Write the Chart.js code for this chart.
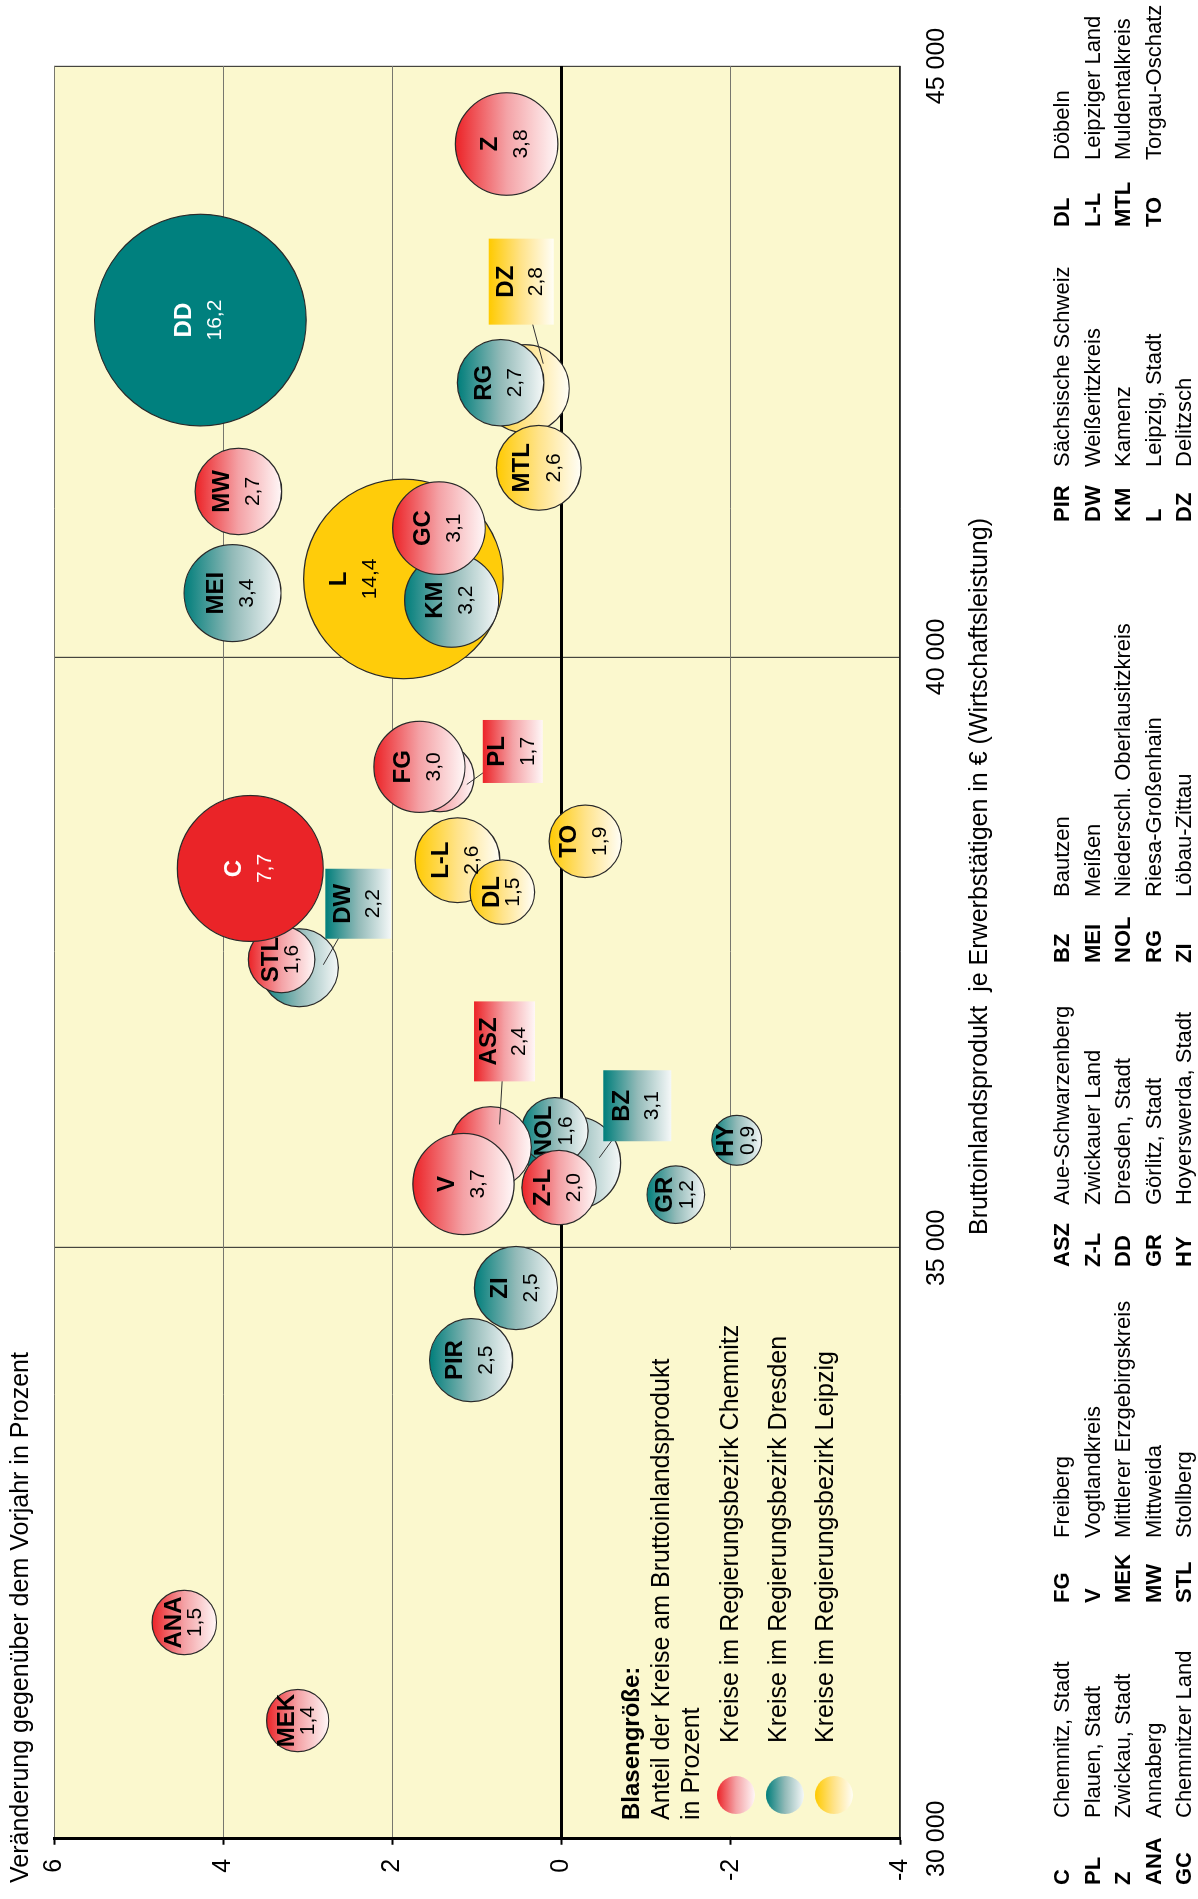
<!DOCTYPE html>
<html lang="de">
<head>
<meta charset="utf-8">
<title>Bruttoinlandsprodukt je Erwerbstätigen – Kreise in Sachsen</title>
<script src="https://cdn.jsdelivr.net/npm/chart.js@4.4.1/dist/chart.umd.min.js"></script>
<style>
  html, body { margin: 0; padding: 0; background: #fff; overflow: hidden; }
  /* Chart wird quer gezeichnet und dann um 90° gedreht */
  #wrap { position: absolute; left: 0; top: 0; width: 1899px; height: 1198px;
          transform-origin: 0 0; transform: translate(0, 1899px) rotate(-90deg); }
</style>
</head>
<body>
<div id="wrap"><canvas id="chart" width="1899" height="1198"></canvas></div>
<script>
// ------------------------------------------------------------------
// Daten (Reihenfolge wie in der Namensliste)
// ------------------------------------------------------------------
const codes = ['C', 'PL', 'Z', 'ANA', 'GC', 'FG', 'V', 'MEK', 'MW', 'STL', 'ASZ', 'Z-L',
               'DD', 'GR', 'HY', 'BZ', 'MEI', 'NOL', 'RG', 'ZI', 'PIR', 'DW', 'KM',
               'L', 'DZ', 'DL', 'L-L', 'MTL', 'TO'];

const names = ['Chemnitz, Stadt', 'Plauen, Stadt', 'Zwickau, Stadt', 'Annaberg', 'Chemnitzer Land',
               'Freiberg', 'Vogtlandkreis', 'Mittlerer Erzgebirgskreis', 'Mittweida', 'Stollberg',
               'Aue-Schwarzenberg', 'Zwickauer Land', 'Dresden, Stadt', 'Görlitz, Stadt', 'Hoyerswerda, Stadt',
               'Bautzen', 'Meißen', 'Niederschl. Oberlausitzkreis', 'Riesa-Großenhain', 'Löbau-Zittau',
               'Sächsische Schweiz', 'Weißeritzkreis', 'Kamenz', 'Leipzig, Stadt', 'Delitzsch',
               'Döbeln', 'Leipziger Land', 'Muldentalkreis', 'Torgau-Oschatz'];

// 0 = Chemnitz, 1 = Dresden, 2 = Leipzig
const bezirk = [0, 0, 0, 0, 0, 0, 0, 0, 0, 0, 0, 0,
                1, 1, 1, 1, 1, 1, 1, 1, 1, 1, 1,
                2, 2, 2, 2, 2, 2];

// BIP je Erwerbstätigen in €
const bip = [38210, 38980, 44340, 31830, 41090, 39070, 35540, 31000, 41400, 37440, 35850, 35510,
             42850, 35450, 35910, 35720, 40540, 35990, 42320, 34660, 34050, 37370, 40480,
             40660, 42270, 38010, 38280, 41600, 38440];

// Veränderung gegenüber dem Vorjahr in %
const veraenderung = [3.68, 1.44, 0.65, 4.46, 1.45, 1.68, 1.16, 3.12, 3.82, 3.31, 0.84, 0.03,
                      4.27, -1.35, -2.07, -0.15, 3.89, 0.08, 0.72, 0.54, 1.07, 3.10, 1.30,
                      1.87, 0.43, 0.70, 1.23, 0.27, -0.28];

// Anteil am Bruttoinlandsprodukt in % (Blasengröße)
const anteil = [7.7, 1.7, 3.8, 1.5, 3.1, 3.0, 3.7, 1.4, 2.7, 1.6, 2.4, 2.0,
                16.2, 1.2, 0.9, 3.1, 3.4, 1.6, 2.7, 2.5, 2.5, 2.2, 3.2,
                14.4, 2.8, 1.5, 2.6, 2.6, 1.9];

const bezirke = ['Chemnitz', 'Dresden', 'Leipzig'];
const xTicks = [30000, 35000, 40000, 45000];
const yTicks = [-4, -2, 0, 2, 4, 6];

// ------------------------------------------------------------------
// Darstellung
// ------------------------------------------------------------------
const FONT = '"Liberation Sans", Arial, sans-serif';
const BG = '#FBF8CE';
const R_SCALE = 26.3;  // px je Wurzel(Prozent)

const FARBEN = [
  { full: '#EC2327', mid: '#F4A2A6', light: '#FFF7F7', solid: '#EA2428' },
  { full: '#007E7B', mid: '#92BAB8', light: '#F5F8F8', solid: '#00807E' },
  { full: '#FFCA00', mid: '#FFE38A', light: '#FFFEF6', solid: '#FFCC0A' },
];
const SOLID = ['C', 'DD', 'L'];
const WHITE_TEXT = ['C', 'DD'];
const BACK = ['PL', 'ASZ', 'STL', 'BZ', 'DW', 'L', 'DZ', 'L-L'];  // zuerst zeichnen
const LABEL_SHIFT = { L: -48 };

// verdeckte Kreise: Beschriftung im Kasten, [u, v] relativ zum Blasenmittelpunkt
const CALLOUTS = {
  DW:  { box: [64, 59],  size: [70, 66], end: [3, 24] },
  PL:  { box: [26, 73],  size: [63, 60], end: [-7, 27] },
  ASZ: { box: [106, 14], size: [80, 61], end: [23, 9] },
  BZ:  { box: [57, 63],  size: [71, 68], end: [5, 25] },
  DZ:  { box: [107, -4], size: [86, 65], end: [25, 18] },
};

const font = (size, bold) => (bold ? 'bold ' : '') + size + 'px ' + FONT;
const fmtPct = v => v.toFixed(1).replace('.', ',');
const radiusOf = share => R_SCALE * Math.sqrt(share);

function makeGradient(c, top, bottom, f) {
  const g = c.createLinearGradient(0, top, 0, bottom);
  g.addColorStop(0, f.full);
  g.addColorStop(0.5, f.mid);
  g.addColorStop(1, f.light);
  return g;
}

function buildDatasets() {
  return bezirke.map((name, b) => {
    const idx = codes.map((_, i) => i).filter(i => bezirk[i] === b);
    const back = idx.filter(i => BACK.includes(codes[i]));
    const front = idx.filter(i => !BACK.includes(codes[i]));
    return {
      label: 'Kreise im Regierungsbezirk ' + name,
      bezirk: b,
      data: back.concat(front).map(i => ({
        x: bip[i], y: veraenderung[i], share: anteil[i], code: codes[i],
      })),
      radius: ctx => (ctx.raw ? radiusOf(ctx.raw.share) : 3),
      backgroundColor: ctx => {
        const f = FARBEN[b];
        if (!ctx.raw || SOLID.includes(ctx.raw.code)) return f.solid;
        const yp = ctx.chart.scales.y ? ctx.chart.scales.y.getPixelForValue(ctx.raw.y) : NaN;
        if (!isFinite(yp)) return f.mid;
        const r = radiusOf(ctx.raw.share);
        return makeGradient(ctx.chart.ctx, yp - r, yp + r, f);
      },
      borderColor: '#2a2a2a',
      borderWidth: 1.2,
    };
  });
}

// ------------------------------------------------------------------
// Zusatzzeichnungen: Hintergrund, Beschriftungen, Legende, Namensliste
// ------------------------------------------------------------------
const extras = {
  id: 'extras',

  beforeDraw(chart) {
    const { ctx: c, chartArea: a } = chart;
    c.save();
    c.fillStyle = BG;
    c.fillRect(a.left, a.top, a.right - a.left, a.bottom - a.top);
    c.restore();
  },

  afterDatasetDraw(chart, args) {
    const c = chart.ctx;
    const ds = chart.data.datasets[args.index];
    c.save();
    c.textAlign = 'center';
    c.textBaseline = 'middle';
    args.meta.data.forEach((el, i) => {
      const p = ds.data[i];
      if (CALLOUTS[p.code]) return;
      const r = el.options.radius;
      const small = r < 34;
      const shift = LABEL_SHIFT[p.code] || 0;
      c.fillStyle = WHITE_TEXT.includes(p.code) ? '#fff' : '#000';
      c.font = font(24, true);
      c.fillText(p.code, el.x, el.y + shift + (small ? -11 : -17) + 1);
      c.font = font(21, false);
      c.fillText(fmtPct(p.share), el.x, el.y + shift + (small ? 10 : 14) + 1);
    });
    c.restore();
  },

  afterDatasetsDraw(chart) {
    const c = chart.ctx;
    const a = chart.chartArea;
    c.save();

    // Kästen für verdeckte Kreise
    chart.data.datasets.forEach((ds, d) => {
      const meta = chart.getDatasetMeta(d);
      meta.data.forEach((el, i) => {
        const p = ds.data[i];
        const co = CALLOUTS[p.code];
        if (!co) return;
        const bx = el.x + co.box[0], by = el.y + co.box[1];
        const w = co.size[0], h = co.size[1];
        c.strokeStyle = '#333';
        c.lineWidth = 1;
        c.beginPath();
        c.moveTo(bx, by);
        c.lineTo(el.x + co.end[0], el.y + co.end[1]);
        c.stroke();
        c.fillStyle = makeGradient(c, by - h / 2, by + h / 2, FARBEN[ds.bezirk]);
        c.fillRect(bx - w / 2, by - h / 2, w, h);
        c.fillStyle = '#000';
        c.textAlign = 'center';
        c.textBaseline = 'middle';
        c.font = font(24, true);
        c.fillText(p.code, bx, by - 16 + 1);
        c.font = font(21, false);
        c.fillText(fmtPct(p.share), bx, by + 14 + 1);
      });
    });

    // Legende Blasengröße (eigener Hintergrund, deckt das Gitter ab)
    const xs = chart.scales.x, ys = chart.scales.y;
    const boxLeft = a.left + 2, boxRight = xs.getPixelForValue(xTicks[1]) - 2;
    const boxTop = ys.getPixelForValue(0) + 4, boxBottom = a.bottom - 1;
    c.fillStyle = BG;
    c.fillRect(boxLeft, boxTop, boxRight - boxLeft, boxBottom - boxTop);

    c.fillStyle = '#000';
    c.textAlign = 'left';
    c.textBaseline = 'alphabetic';
    c.font = font(24, true);
    c.fillText('Blasengröße:', 79, 638.5);
    c.font = font(25, false);
    c.fillText('Anteil der Kreise am Bruttoinlandsprodukt', 79, 668.5);
    c.fillText('in Prozent', 79, 698.5);
    chart.data.datasets.forEach((ds, k) => {
      const cy = 736 + 49 * k;
      c.fillStyle = makeGradient(c, cy - 19, cy + 19, FARBEN[ds.bezirk]);
      c.beginPath();
      c.arc(104, cy, 19, 0, Math.PI * 2);
      c.fill();
      c.fillStyle = '#000';
      c.fillText(ds.label, 156, 738 + 47.5 * k);
    });
    c.restore();
  },

  afterDraw(chart) {
    const c = chart.ctx;
    c.save();
    c.fillStyle = '#000';
    c.textAlign = 'left';
    c.textBaseline = 'alphabetic';
    c.font = font(25, false);
    c.fillText('Veränderung gegenüber dem Vorjahr in Prozent', 16, 27.5);
    c.fillText('Bruttoinlandsprodukt  je Erwerbstätigen in € (Wirtschaftsleistung)', 664, 986.5);

    // Namensliste
    const colAbbr = [14, 296, 632, 936, 1377, 1672];
    const colName = [81, 361, 694, 1002, 1432, 1739];
    codes.forEach((code, i) => {
      const col = Math.floor(i / 5), row = i % 5;
      const y = 1069 + 30.5 * row;
      c.font = font(22, true);
      c.fillText(code, colAbbr[col], y);
      c.font = font(22, false);
      c.fillText(names[i], colName[col], y);
    });
    c.restore();
  },
};

Chart.defaults.font.family = FONT;
Chart.defaults.color = '#000';

const chart = new Chart(document.getElementById('chart'), {
  type: 'bubble',
  data: { datasets: buildDatasets() },
  plugins: [extras],
  options: {
    responsive: false,
    animation: false,
    events: [],
    layout: { autoPadding: false, padding: { top: 54, right: 66, left: 0, bottom: 0 } },
    plugins: { legend: { display: false }, tooltip: { enabled: false } },
    scales: {
      x: {
        type: 'linear',
        min: xTicks[0],
        max: xTicks[xTicks.length - 1],
        afterBuildTicks: s => { s.ticks = xTicks.map(v => ({ value: v })); },
        afterFit: s => { s.height = 298; },
        ticks: {
          padding: 22,
          font: { size: 25 },
          color: '#000',
          callback: v => String(v).replace(/\B(?=(\d{3})+(?!\d))/g, ' '),
        },
        grid: { color: '#45453f', lineWidth: 1.2, drawTicks: false },
        border: { color: '#222', width: 1.5 },
      },
      y: {
        min: yTicks[0],
        max: yTicks[yTicks.length - 1],
        afterBuildTicks: s => { s.ticks = yTicks.map(v => ({ value: v })); },
        afterFit: s => { s.width = 46; },
        ticks: { padding: 14, font: { size: 25 }, color: '#000', callback: v => String(v) },
        grid: {
          color: ctx => (ctx.tick && ctx.tick.value === 0) ? '#000' : '#77776e',
          lineWidth: ctx => (ctx.tick && ctx.tick.value === 0) ? 3 : 1,
          tickLength: 6,
          tickColor: '#000',
          tickWidth: 2,
        },
        border: { color: '#000', width: 3 },
      },
    },
  },
});
// Verläufe brauchen die fertigen Skalen: einmal neu berechnen
chart.update('none');
</script>
</body>
</html>
